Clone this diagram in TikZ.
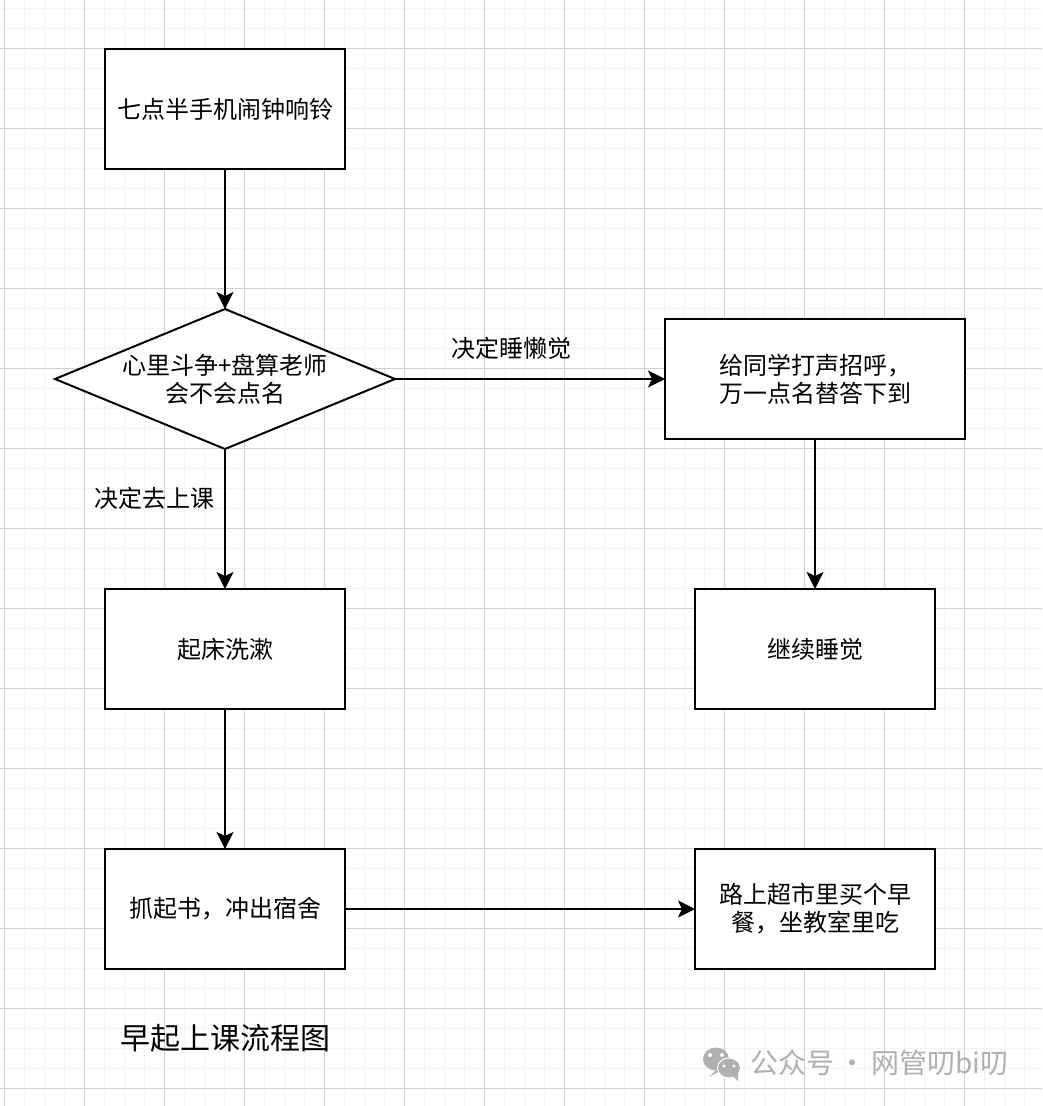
\documentclass[tikz,border=0pt]{standalone}
\usepackage{fontspec}
\setmainfont{Noto Sans CJK SC}
\usepackage{tikz}
\usetikzlibrary{arrows.meta, positioning, shapes.geometric}
\definecolor{gridmajor}{HTML}{D0D0D0}
\definecolor{gridminor}{HTML}{F3F3F3}
\definecolor{markgray}{HTML}{B0B0B0}

\begin{document}
\begin{tikzpicture}[
		x=1pt, y=1pt,
		node distance = 140pt,
		texts/.style = {text=black, font=\fontsize{24pt}{28pt}\selectfont, align=center},
		stepbox/.style = {texts, rectangle, draw=black, line width=2pt, fill=white, inner sep=0pt, outer sep=0pt, minimum width=240pt, minimum height=120pt},
		choice/.style = {texts, diamond, shape aspect=2.43, draw=black, line width=2pt, fill=white, inner sep=-12pt, outer sep=0pt, minimum width=340pt, minimum height=140pt},
		flow/.style = {draw=black, line width=2pt, -{Stealth[length=17pt, width=17pt, inset=4pt]}},
		edgetext/.style = {texts, anchor=center},
		titletext/.style = {text=black, font=\fontsize{30pt}{36pt}\selectfont},
		marktext/.style = {text=markgray, font=\fontsize{28pt}{34pt}\selectfont},
		gridminorline/.style = {draw=gridminor, line width=1.5pt},
		gridmajorline/.style = {draw=gridmajor, line width=1pt}
		]
		\useasboundingbox (0,0) rectangle (1042,-1106);
		\fill[white] (0,0) rectangle (1042,-1106);
		
		% grid
		\foreach \i in {0,...,52} {
			\draw[gridminorline] ({4.5+20*\i},0) -- ({4.5+20*\i},-1106);
		}
		\foreach \j in {0,...,55} {
			\draw[gridminorline] (0,{-8.5-20*\j}) -- (1042,{-8.5-20*\j});
		}
		\foreach \i in {0,...,13} {
			\draw[gridmajorline] ({4.5+80*\i},0) -- ({4.5+80*\i},-1106);
		}
		\foreach \j in {0,...,13} {
			\draw[gridmajorline] (0,{-48.5-80*\j}) -- (1042,{-48.5-80*\j});
		}
		
		\node [stepbox] (alarm) at (225,-109) {七点半手机闹钟响铃};
		\node [choice, below = of alarm] (decide) {心里斗争+盘算老师\\会不会点名};
		\node [stepbox, below = of decide] (wash) {起床洗漱};
		\node [stepbox, below = of wash] (grab) {抓起书，冲出宿舍};
		\node [stepbox, minimum width=300pt, right = 270pt of decide] (friend) {给同学打声招呼，\\万一点名替答下到};
		\node [stepbox, below = 150pt of friend] (sleep) {继续睡觉};
		\node [stepbox, right = 350pt of grab] (snack) {路上超市里买个早\\餐，坐教室里吃};
		
		\node [titletext, below = 52pt of grab] (title) {早起上课流程图};
		
		\draw[flow] (alarm) -- (decide);
		\draw[flow] (decide) -- node [edgetext, pos=0.35, xshift=-71pt] (gotext) {决定去上课} (wash);
		\draw[flow] (wash) -- (grab);
		\draw[flow] (grab) -- (snack);
		\draw[flow] (decide) -- node [edgetext, pos=0.433, yshift=31pt] (staytext) {决定睡懒觉} (friend);
		\draw[flow] (friend) -- (sleep);
		
		% watermark
		\node [marktext, anchor=west, inner sep=0pt] (mark) at (750,-1063) {公众号\,·\,网管叨bi叨};
		\fill[markgray] (716,-1059) ellipse (13pt and 11.5pt);
		\fill[markgray] (716,-1070) -- (709,-1077) -- (722,-1070) -- cycle;
		\fill[white] (710,-1055) circle (2pt) (722,-1055) circle (2pt);
		\draw[white, line width=1pt, fill=markgray] (729,-1068) ellipse (11.5pt and 10pt);
		\fill[markgray] (733,-1076) -- (738,-1081) -- (738,-1073) -- cycle;
		\fill[white] (724,-1066) circle (1.7pt) (734,-1066) circle (1.7pt);
		\end{tikzpicture}
\end{document}
